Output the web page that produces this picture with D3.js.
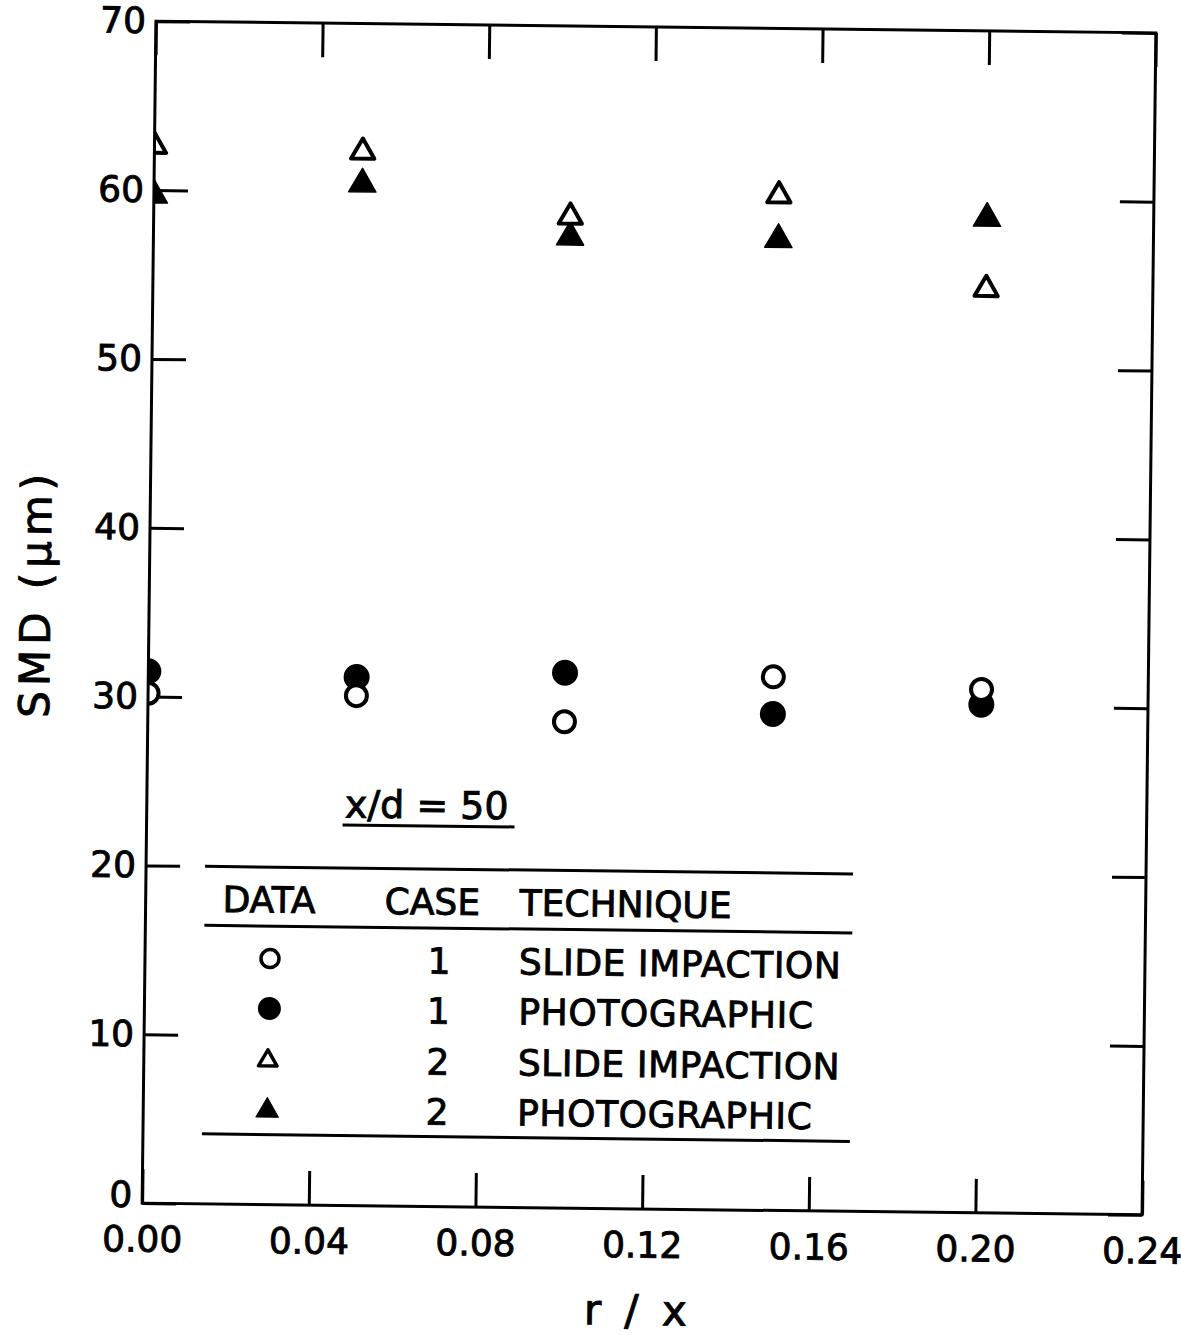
<!DOCTYPE html>
<html>
<head>
<meta charset="utf-8">
<script src="https://cdn.jsdelivr.net/npm/d3@7/dist/d3.min.js"></script>
<style>
  html, body { margin: 0; padding: 0; background: #fff; }
  svg { display: block; }
  text { font-family: "DejaVu Sans", sans-serif; fill: #000; stroke: #000; stroke-width: 0.9px; }
</style>
</head>
<body>
<script>
// r/x stations where the SMD was measured
const rx = [0.00, 0.05, 0.10, 0.15, 0.20];

// Sauter mean diameter (µm) per case and technique
const case1Slide = [30.2, 30.2, 28.8, 31.6, 31.0];
const case1Photo = [31.5, 31.3, 31.7, 29.4, 30.1];
const case2Slide = [62.6, 62.4, 58.7, 60.1, 54.7];
const case2Photo = [59.7, 60.5, 57.5, 57.5, 58.9];

// axis ticks and their labels
const xTicks = [0, 0.04, 0.08, 0.12, 0.16, 0.20, 0.24];
const xTickLabels = ["0.00", "0.04", "0.08", "0.12", "0.16", "0.20", "0.24"];
const yTicks = [0, 10, 20, 30, 40, 50, 60, 70];
const yTickLabels = ["0", "10", "20", "30", "40", "50", "60", "70"];

// legend table
const legendHeader = ["DATA", "CASE", "TECHNIQUE"];
const legendCases = ["1", "1", "2", "2"];
const legendTechniques = ["SLIDE IMPACTION", "PHOTOGRAPHIC", "SLIDE IMPACTION", "PHOTOGRAPHIC"];
const legendSymbols = ["openCircle", "filledCircle", "openTriangle", "filledTriangle"];
const noteText = "x/d = 50";

(function () {
  const W = 1181, H = 1335;
  const pL = 149, pR = 1149, pT = 27, pB = 1209;
  const tickLen = 34;

  const svg = d3.select("body").append("svg")
    .attr("width", W).attr("height", H);

  // the whole drawing sits slightly tilted, as on the printed page
  const g = svg.append("g").attr("transform", "rotate(0.67,649,618)");

  const x = d3.scaleLinear().domain([0, 0.24]).range([pL, pR]);
  const y = d3.scaleLinear().domain([0, 70]).range([pB, pT]);

  // clip markers to the plotting frame
  svg.append("defs").append("clipPath").attr("id", "frame")
    .append("rect").attr("x", pL).attr("y", pT)
    .attr("width", pR - pL).attr("height", pB - pT);

  // --- axes (inward ticks) ---
  const fmtX = (d) => xTickLabels[xTicks.indexOf(d)];
  const fmtY = (d) => yTickLabels[yTicks.indexOf(d)];

  const axB = g.append("g").attr("transform", `translate(0,${pB})`)
    .call(d3.axisBottom(x).tickValues(xTicks).tickFormat(fmtX).tickSize(-tickLen).tickPadding(23));
  const axT = g.append("g").attr("transform", `translate(0,${pT})`)
    .call(d3.axisTop(x).tickValues(xTicks).tickFormat("").tickSize(-tickLen));
  const axL = g.append("g").attr("transform", `translate(${pL},0)`)
    .call(d3.axisLeft(y).tickValues(yTicks).tickFormat(fmtY).tickSize(-tickLen).tickPadding(10));
  const axR = g.append("g").attr("transform", `translate(${pR},0)`)
    .call(d3.axisRight(y).tickValues(yTicks).tickFormat("").tickSize(-tickLen));

  [axB, axT, axL, axR].forEach(a => {
    a.select(".domain").remove();
    a.attr("font-family", null).attr("font-size", null);
    a.selectAll(".tick line").attr("stroke", "#000").attr("stroke-width", 3);
    a.selectAll(".tick text").attr("font-size", 36).attr("fill", "#000");
  });
  // the zero label sits a little higher, clear of the 0.00 label
  axL.selectAll(".tick text").filter(d => d === 0).attr("dy", "0.1em");

  // --- data markers ---
  const markers = g.append("g").attr("clip-path", "url(#frame)");
  const tri = (size) => d3.symbol().type(d3.symbolTriangle).size(size)();

  function drawCircles(vals, filled) {
    markers.append("g").selectAll("circle").data(vals).join("circle")
      .attr("cx", (d, i) => x(rx[i])).attr("cy", d => y(d))
      .attr("r", filled ? 13 : 10.5)
      .attr("fill", filled ? "#000" : "#fff")
      .attr("stroke", filled ? "none" : "#000")
      .attr("stroke-width", 4);
  }
  function drawTriangles(vals, filled) {
    markers.append("g").selectAll("path").data(vals).join("path")
      .attr("d", filled ? tri(320) : tri(235))
      .attr("transform", (d, i) => `translate(${x(rx[i])},${y(d)})`)
      .attr("fill", filled ? "#000" : "#fff")
      .attr("stroke", "#000")
      .attr("stroke-width", filled ? 1.5 : 4)
      .attr("stroke-linejoin", "round");
  }
  drawCircles(case1Photo, true);
  drawCircles(case1Slide, false);
  drawTriangles(case2Photo, true);
  drawTriangles(case2Slide, false);

  // --- frame ---
  g.append("rect").attr("x", pL).attr("y", pT)
    .attr("width", pR - pL).attr("height", pB - pT)
    .attr("fill", "none").attr("stroke", "#000").attr("stroke-width", 3);

  // --- axis titles ---
  g.append("text")
    .attr("x", 646).attr("y", 1325)
    .attr("text-anchor", "middle")
    .attr("font-size", 42).attr("letter-spacing", 5)
    .text("r / x");

  g.append("text")
    .attr("transform", "translate(50,603) rotate(-90)")
    .attr("text-anchor", "middle")
    .attr("font-size", 42)
    .attr("textLength", 244).attr("lengthAdjust", "spacing")
    .text("SMD (μm)");

  // --- note and legend table ---
  g.append("text").attr("x", 347).attr("y", 821)
    .attr("font-size", 38).text(noteText);
  g.append("line").attr("x1", 345).attr("x2", 517).attr("y1", 828.5).attr("y2", 828.5)
    .attr("stroke", "#000").attr("stroke-width", 3);

  const rules = [871.5, 930.5, 1139];
  g.append("g").selectAll("line").data(rules).join("line")
    .attr("x1", 208).attr("x2", 856).attr("y1", d => d).attr("y2", d => d)
    .attr("stroke", "#000").attr("stroke-width", 3);

  const headerX = [226, 388, 523];
  g.append("g").selectAll("text").data(legendHeader).join("text")
    .attr("x", (d, i) => headerX[i]).attr("y", 917)
    .attr("font-size", 36).text(d => d);

  const rowY = [963, 1013, 1064, 1114];
  const leg = g.append("g");
  legendSymbols.forEach((s, i) => {
    const cy = rowY[i];
    if (s === "openCircle") {
      leg.append("circle").attr("cx", 274).attr("cy", cy).attr("r", 9)
        .attr("fill", "#fff").attr("stroke", "#000").attr("stroke-width", 3.5);
    } else if (s === "filledCircle") {
      leg.append("circle").attr("cx", 274).attr("cy", cy).attr("r", 11.5).attr("fill", "#000");
    } else if (s === "openTriangle") {
      leg.append("path").attr("d", tri(150)).attr("transform", `translate(273,${cy + 1})`)
        .attr("fill", "#fff").attr("stroke", "#000").attr("stroke-width", 3.5)
        .attr("stroke-linejoin", "round");
    } else {
      leg.append("path").attr("d", tri(220)).attr("transform", `translate(273,${cy + 1})`)
        .attr("fill", "#000").attr("stroke", "#000").attr("stroke-width", 1)
        .attr("stroke-linejoin", "round");
    }
    leg.append("text").attr("x", 443).attr("y", cy + 13).attr("text-anchor", "middle")
      .attr("font-size", 36).text(legendCases[i]);
    leg.append("text").attr("x", 523).attr("y", cy + 13)
      .attr("font-size", 36).attr("letter-spacing", 0.6).text(legendTechniques[i]);
  });
})();
</script>
</body>
</html>
